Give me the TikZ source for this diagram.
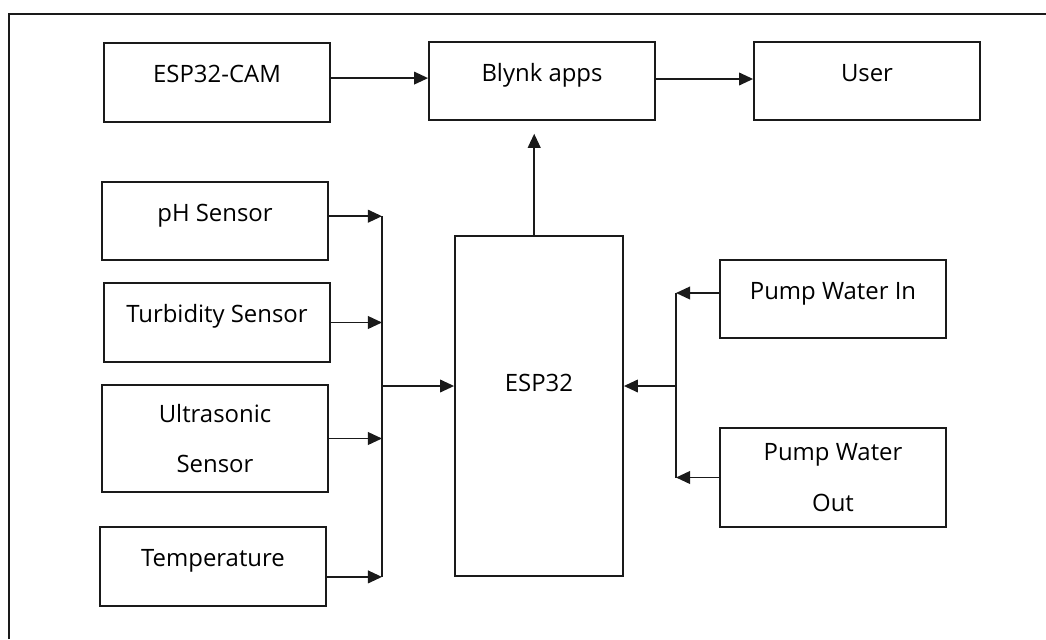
\documentclass[tikz,border=0pt]{standalone}
\usepackage{fontspec}
\usetikzlibrary{arrows.meta, calc}
\newfontfamily\diafont{Open Sans}
\definecolor{lnblack}{HTML}{1A1A1A}

\begin{document}
\begin{tikzpicture}[x=0.025cm, y=-0.025cm,
  >={Triangle[length=10pt, width=9pt]},
  blok/.style={draw=lnblack, line width=1.25pt, inner sep=0pt,
    minimum width=5.65cm, minimum height=1.96cm,
    font=\diafont\fontsize{17}{36}\selectfont,
    text height=12pt, text depth=11.5pt},
  blokii/.style={draw=lnblack, line width=1.25pt, inner sep=0pt,
    minimum width=5.65cm, align=center,
    font=\diafont\fontsize{17}{36}\selectfont},
  conn/.style={draw=lnblack, line width=1.25pt}
]

% Page
\useasboundingbox (0,0) rectangle (1046,639);
\fill[white] (0,0) rectangle (1046,639);

% Frame (runs off the page on the right and at the bottom)
\draw[conn] (9,639) -- (9,14) -- (1046,14);

% ================================================================
% TOP ROW
% ================================================================
\node[blok] (cam)   at (217,82.5) {ESP32-CAM};
\node[blok] (blynk) at (542,81)   {Blynk apps};
\node[blok] (user)  at (867,81)   {User};

\draw[conn,->] ([yshift=0.11cm]cam.east) -- ([yshift=0.11cm]cam.east -| blynk.west);
\draw[conn,->] ([yshift=0.05cm]blynk.east) -- ([yshift=0.05cm]blynk.east -| user.west);

% ================================================================
% CONTROLLER
% ================================================================
\node[blok, minimum width=4.2cm, minimum height=8.5cm, text depth=33pt]
  (esp) at (539,406) {ESP32};

\draw[conn,->, shorten >=9pt] ([xshift=-0.12cm]esp.north)
  -- ([xshift=-0.12cm]esp.north |- blynk.south);

% ================================================================
% LEFT: sensors
% ================================================================
\node[blok] (ph)   at (215,221)   {pH Sensor};
\node[blok] (turb) at (217,322.5) {Turbidity Sensor};
\node[blokii, minimum height=2.675cm] (ultra) at (215,438.5)
  {Ultrasonic\\Sensor};
\node[blok] (temp) at (213,566.5) {Temperature};

\coordinate (busL) at (382,386);

\draw[conn,->] ([yshift=0.12cm]ph.east) -- ([yshift=0.12cm]ph.east -| busL);
\draw[conn,->] (turb.east) -- (turb.east -| busL);
\draw[conn,->] (ultra.east) -- (ultra.east -| busL);
\draw[conn,->] ([yshift=-0.26cm]temp.east) -- ([yshift=-0.26cm]temp.east -| busL);
\draw[conn] ([yshift=0.12cm]ph.east -| busL) -- ([yshift=-0.26cm]temp.east -| busL);
\draw[conn,->] (busL) -- (busL -| esp.west);

% ================================================================
% RIGHT: pumps
% ================================================================
\node[blok] (pin) at (833,299) {Pump Water In};
\node[blokii, minimum height=2.475cm] (pout) at (833,477.5)
  {Pump Water\\Out};

\coordinate (busR) at (676,386);

\draw[conn,->] ([yshift=0.15cm]pin.west) -- ([yshift=0.15cm]pin.west -| busR);
\draw[conn,->] (pout.west) -- (pout.west -| busR);
\draw[conn] ([yshift=0.15cm]pin.west -| busR) -- (pout.west -| busR);
\draw[conn,->] (busR) -- (busR -| esp.east);

\end{tikzpicture}
\end{document}
